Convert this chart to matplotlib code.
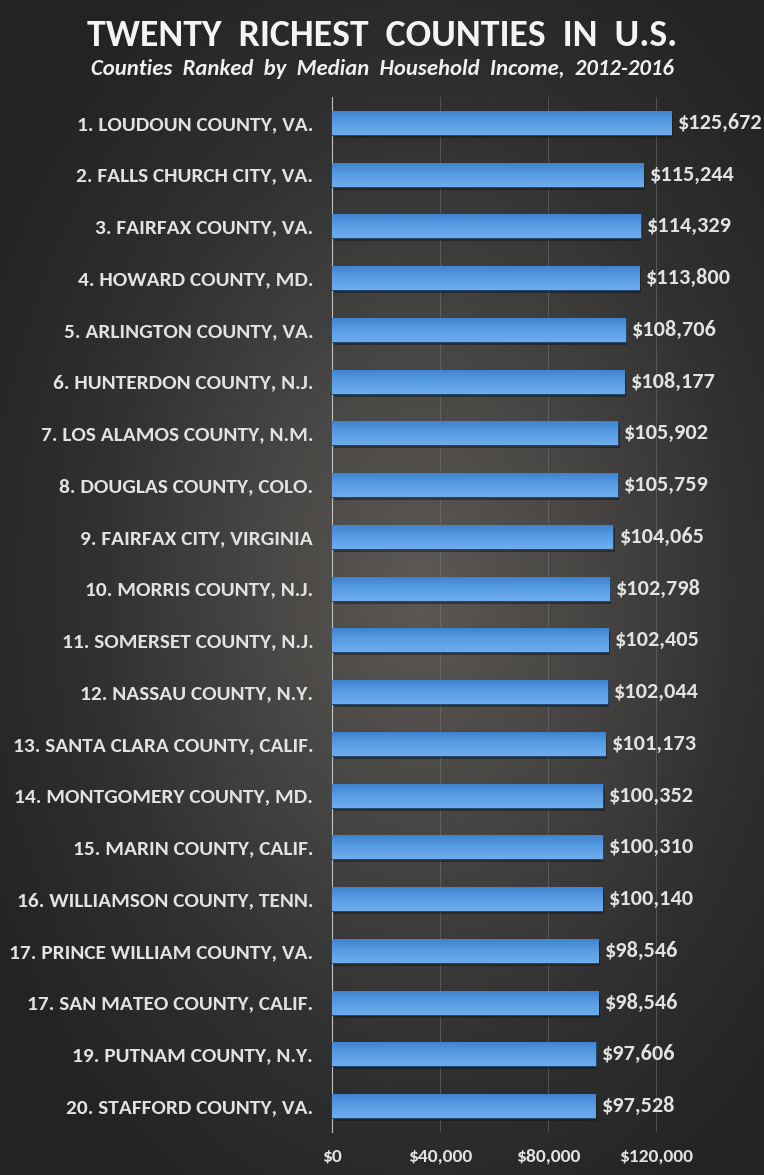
import numpy as np
import matplotlib
matplotlib.use('Agg')
import matplotlib.pyplot as plt
from matplotlib.colors import LinearSegmentedColormap
from matplotlib.ticker import FuncFormatter

counties = ['1. LOUDOUN COUNTY, VA.', '2. FALLS CHURCH CITY, VA.', '3. FAIRFAX COUNTY, VA.',
            '4. HOWARD COUNTY, MD.', '5. ARLINGTON COUNTY, VA.', '6. HUNTERDON COUNTY, N.J.',
            '7. LOS ALAMOS COUNTY, N.M.', '8. DOUGLAS COUNTY, COLO.', '9. FAIRFAX CITY, VIRGINIA',
            '10. MORRIS COUNTY, N.J.', '11. SOMERSET COUNTY, N.J.', '12. NASSAU COUNTY, N.Y.',
            '13. SANTA CLARA COUNTY, CALIF.', '14. MONTGOMERY COUNTY, MD.', '15. MARIN COUNTY, CALIF.',
            '16. WILLIAMSON COUNTY, TENN.', '17. PRINCE WILLIAM COUNTY, VA.', '17. SAN MATEO COUNTY, CALIF.',
            '19. PUTNAM COUNTY, N.Y.', '20. STAFFORD COUNTY, VA.']
income = [125672, 115244, 114329, 113800, 108706, 108177, 105902, 105759, 104065, 102798,
          102405, 102044, 101173, 100352, 100310, 100140, 98546, 98546, 97606, 97528]
xticks = [0, 40000, 80000, 120000]

plt.rcParams['font.family'] = ['Carlito', 'Open Sans', 'DejaVu Sans']
txt = '#e2e2e2'

fig = plt.figure(figsize=(7.64, 11.75), dpi=100)

# background radial gradient
bg = fig.add_axes([0, 0, 1, 1])
gx, gy = np.meshgrid(np.linspace(0, 1, 300), np.linspace(0, 1, 460))
r = np.sqrt(((gx - 0.55) / 0.9) ** 2 + ((gy - 0.50) / 0.85) ** 2)
bg_cmap = LinearSegmentedColormap.from_list('bg', ['#5b5855', '#484644', '#303030', '#232323'])
bg.imshow(np.clip(r / 0.72, 0, 1), cmap=bg_cmap, aspect='auto', extent=[0, 1, 0, 1],
          origin='lower', vmin=0, vmax=1)
bg.axis('off')

ax = fig.add_axes([332 / 764, 1 - 1132 / 1175, 1 - 332 / 764, 1035 / 1175])
ax.patch.set_alpha(0)
y = np.arange(len(counties))

# soft shadow under the bars
ax.barh(y + 0.06, income, height=0.46, left=600, color='#111111', alpha=0.45, linewidth=0, zorder=2)
bars = ax.barh(y, income, height=0.46, color='#5499df', edgecolor='#24476e', linewidth=0.8, zorder=3)

# vertical gradient on each bar, lighter on top
bar_cmap = LinearSegmentedColormap.from_list('bar', ['#6eaced', '#5a9ee4', '#3f84d0'])
grad = np.linspace(0, 1, 50).reshape(-1, 1)
for b in bars:
    x0, y0 = b.get_x(), b.get_y()
    im = ax.imshow(grad, cmap=bar_cmap, aspect='auto', origin='lower',
                   extent=[x0, x0 + b.get_width(), y0 + b.get_height(), y0], zorder=4)
    im.set_clip_path(b)

for yi, v in zip(y, income):
    ax.text(v + 2400, yi, '${:,}'.format(v), va='center', ha='left', color=txt,
            fontsize=16, fontweight='bold', zorder=5)

ax.set_xlim(0, 160000)
ax.set_ylim(len(counties) - 0.5, -0.5)
ax.set_yticks(y)
ax.set_yticklabels(counties, fontsize=15.4, fontweight='bold', color=txt)
ax.set_xticks(xticks)
ax.xaxis.set_major_formatter(FuncFormatter(lambda v, p: '${:,.0f}'.format(v)))
for lab in ax.get_xticklabels():
    lab.set_fontsize(14)
    lab.set_fontweight('bold')
    lab.set_color(txt)
ax.tick_params(axis='both', length=0)
ax.tick_params(axis='y', pad=13.5)
ax.tick_params(axis='x', pad=12)
ax.grid(axis='x', color='#7a7a7a', linewidth=0.6, alpha=0.6, zorder=0)
for s in ['top', 'right', 'bottom']:
    ax.spines[s].set_visible(False)
ax.spines['left'].set_color('#c0c0c0')
ax.spines['left'].set_linewidth(0.8)

fig.text(0.5, 1 - 35 / 1175, 'TWENTY  RICHEST  COUNTIES  IN  U.S.', ha='center', va='center',
         color='#f4f4f4', fontsize=27.2, fontweight='bold')
fig.text(0.5, 1 - 69 / 1175, 'Counties  Ranked  by  Median  Household  Income,  2012-2016',
         ha='center', va='center', color='#f0f0f0', fontsize=16.4, fontweight='bold', style='italic')

fig.savefig('out.png', dpi=100)
